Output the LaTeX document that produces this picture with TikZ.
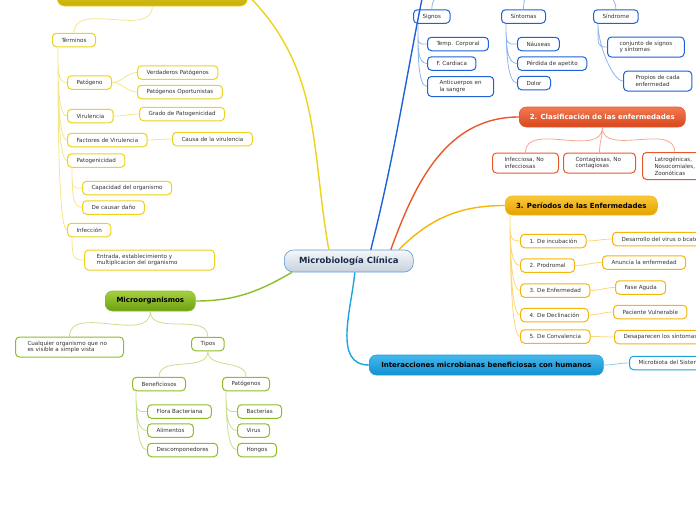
\documentclass[tikz,border=0pt]{standalone}
\usepackage{fontspec}
\setmainfont{DejaVu Sans}
\usetikzlibrary{positioning, calc}
\definecolor{ylw}{HTML}{EDD31A}
\definecolor{ylwL}{HTML}{F4E68A}
\definecolor{ylwT}{HTML}{DECB22}
\definecolor{ylwB}{HTML}{C8B00A}
\definecolor{blu}{HTML}{1D62D6}
\definecolor{bluL}{HTML}{8FB4EC}
\definecolor{org}{HTML}{E8582C}
\definecolor{orgL}{HTML}{F4A98E}
\definecolor{orgT}{HTML}{F27A52}
\definecolor{orgB}{HTML}{D8461C}
\definecolor{gld}{HTML}{F5B50A}
\definecolor{gldL}{HTML}{FAD77A}
\definecolor{gldT}{HTML}{F9C83A}
\definecolor{gldB}{HTML}{E6A200}
\definecolor{cyn}{HTML}{1DA4E0}
\definecolor{cynL}{HTML}{86CFF0}
\definecolor{cynT}{HTML}{44B8EC}
\definecolor{cynB}{HTML}{1290D0}
\definecolor{grn}{HTML}{8DBE28}
\definecolor{grnL}{HTML}{C6E08C}
\definecolor{grnT}{HTML}{A6D040}
\definecolor{grnB}{HTML}{6E9E14}
\definecolor{cenT}{HTML}{F6F8FB}
\definecolor{cenB}{HTML}{C6D0DC}
\definecolor{cenD}{HTML}{5A9BD8}
\definecolor{navy}{HTML}{1A2A4A}

\begin{document}
\begin{tikzpicture}[x=1pt, y=1pt,
    leaf/.style={draw, rounded corners=4pt, fill=white, line width=1pt, text=black!80,
                 font=\fontsize{5.6}{6.8}\selectfont, inner xsep=9pt, inner ysep=0pt,
                 minimum height=13.5pt, anchor=west, align=left},
    twoline/.style={inner xsep=12pt, minimum height=20pt},
    topic/.style={draw, rounded corners=7pt, line width=0.6pt, minimum height=20pt,
                  anchor=west, font=\bfseries\fontsize{7}{8}\selectfont},
    yl/.style={leaf, draw=ylw},
    bl/.style={leaf, draw=blu},
    ol/.style={leaf, draw=org},
    gl/.style={leaf, draw=gld},
    cl/.style={leaf, draw=cyn},
    ml/.style={leaf, draw=grn},
    main/.style={line width=1.4pt},
    sub/.style={line width=0.8pt},
    vlink/.style={to path={.. controls +(0,-22) and +(-10,0) .. (\tikztotarget)}},
]
\useasboundingbox (0,0) rectangle (696,-520);
\clip (0,0) rectangle (696,-520);

\node[topic, minimum width=129pt, minimum height=22pt, rounded corners=9pt, top color=cenT,
      bottom color=cenB, draw=cenD, text=navy, font=\bfseries\fontsize{8.5}{10}\selectfont]
      (cen) at (284,-261) {Microbiología Clínica};

% terminos
\node[topic, minimum width=190pt, minimum height=22pt, top color=ylwT, bottom color=ylwB, draw=ylw] (ytop) at (57,5) {};
\node[yl] (term) at (52,-40) {Términos};
\node[yl] (patg) at (67,-82.5) {Patógeno};
\node[yl] (verd) at (137,-72.5) {Verdaderos Patógenos};
\node[yl] (opor) at (137,-92) {Patógenos Oportunistas};
\node[yl] (viru) at (67,-116) {Virulencia};
\node[yl] (grad) at (139,-114) {Grado de Patogenicidad};
\node[yl] (fact) at (67,-140) {Factores de Virulencia};
\node[yl] (caus) at (172,-139) {Causa de la virulencia};
\node[yl] (pgen) at (67,-160.5) {Patogenicidad};
\node[yl] (capa) at (82,-188) {Capacidad del organismo};
\node[yl] (dano) at (82,-207.5) {De causar daño};
\node[yl] (infe) at (67,-230) {Infección};
\node[yl, twoline, text width=106pt] (entr) at (84,-260) {Entrada, establecimiento y\\multiplicacion del organismo};

% signos y sintomas
\node[topic, minimum width=200pt, fill=blu, draw=blu] (btop) at (430,40) {};
\node[bl] (sign) at (413,-16.5) {Signos};
\node[bl] (sint) at (501,-16.5) {Síntomas};
\node[bl] (sind) at (593,-16.5) {Síndrome};
\node[bl] (temp) at (427,-44) {Temp. Corporal};
\node[bl] (card) at (427,-63.5) {F. Cardiaca};
\node[bl, twoline] (anti) at (427,-86.5) {Anticuerpos en\\la sangre};
\node[bl] (naus) at (517,-44) {Náuseas};
\node[bl] (perd) at (517,-63.5) {Pérdida de apetito};
\node[bl] (dolo) at (517,-83) {Dolor};
\node[bl, twoline] (conj) at (607,-47) {conjunto de signos\\y síntomas};
\node[bl, twoline] (prop) at (623,-81) {Propios de cada\\enfermedad};

% clasificacion
\node[topic, minimum width=166pt, top color=orgT, bottom color=orgB, draw=org, text=white] (otop) at (519,-117) {2. Clasificación de las enfermedades};
\node[ol, twoline, text width=42pt] (infc) at (492,-163) {Infecciosa, No\\infecciosas};
\node[ol, twoline, text width=48pt] (cont) at (563,-163) {Contagiosas, No\\contagiosas};
\node[ol, twoline, minimum height=27pt] (latr) at (642,-166) {Latrogénicas,\\Nosocomiales,\\Zoonóticas};

% periodos
\node[topic, minimum width=152pt, minimum height=19pt, top color=gldT, bottom color=gldB, draw=gld] (gtop) at (505,-205.5) {3. Períodos de las Enfermedades};
\node[gl] (p1) at (520,-241) {1. De incubación};
\node[gl] (p2) at (520,-265.5) {2. Prodromal};
\node[gl] (p3) at (520,-290.5) {3. De Enfermedad};
\node[gl] (p4) at (520,-315) {4. De Declinación};
\node[gl] (p5) at (520,-336.5) {5. De Convalencia};
\node[gl] (d1) at (612,-239) {Desarrollo del virus o bcateria};
\node[gl] (d2) at (602,-262.5) {Anuncia la enfermedad};
\node[gl] (d3) at (615,-287.5) {Fase Aguda};
\node[gl] (d4) at (613,-312) {Paciente Vulnerable};
\node[gl] (d5) at (614,-337) {Desaparecen los síntomas};

% interacciones
\node[topic, minimum width=234pt, top color=cynT, bottom color=cynB, draw=cyn] (ctop) at (369,-365) {Interacciones microbianas beneficiosas con humanos};
\node[cl] (micr) at (629,-363) {Microbiota del Sistema Digestivo};

% microorganismos
\node[topic, minimum width=90pt, top color=grnT, bottom color=grnB, draw=grn] (mtop) at (105,-301) {Microorganismos};
\node[ml, twoline, text width=84pt] (cual) at (15,-347) {Cualquier organismo que no\\es visible a simple vista};
\node[ml] (tipo) at (191,-344) {Tipos};
\node[ml] (bene) at (132,-384) {Beneficiosos};
\node[ml] (pato) at (222,-384) {Patógenos};
\node[ml] (flor) at (147,-411.5) {Flora Bacteriana};
\node[ml] (alim) at (147,-430.5) {Alimentos};
\node[ml] (desc) at (147,-450) {Descomponedores};
\node[ml] (bact) at (237,-411.5) {Bacterias};
\node[ml] (viru2) at (237,-430.5) {Virus};
\node[ml] (hong) at (237,-450) {Hongos};

% main branches
\draw[main, ylw] ([xshift=-20pt]cen.north) to[out=100,in=-45] (ytop.east);
\draw[main, blu] ([xshift=22pt]cen.north) to[out=76,in=-102] (btop.west);
\draw[main, org] ([xshift=42pt]cen.north) to[out=70,in=180] (otop.west);
\draw[main, gld] ([xshift=50pt]cen.north) to[out=45,in=180] (gtop.west);
\draw[main, cyn] ([xshift=6pt]cen.south) to[out=-95,in=180] (ctop.west);
\draw[main, grn] ([xshift=8pt]cen.south west) to[out=-150,in=0] (mtop.east);

\draw[sub, ylwL] (ytop.south) to[out=-90,in=90] (term.north);
\draw[sub, ylwL] ([xshift=6pt]term.south west) to[vlink] (patg.west)
                 ([xshift=6pt]term.south west) to[vlink] (viru.west)
                 ([xshift=6pt]term.south west) to[vlink] (fact.west)
                 ([xshift=6pt]term.south west) to[vlink] (pgen.west)
                 ([xshift=6pt]term.south west) to[vlink] (infe.west);
\draw[sub, ylwL] (patg.east) to[out=0,in=180] (verd.west)
                 (patg.east) to[out=0,in=180] (opor.west)
                 (viru.east) to[out=0,in=180] (grad.west)
                 (fact.east) to[out=0,in=180] (caus.west);
\draw[sub, ylwL] ([xshift=5pt]pgen.south west) to[vlink] (capa.west)
                 ([xshift=5pt]pgen.south west) to[vlink] (dano.west)
                 ([xshift=5pt]infe.south west) to[vlink] (entr.west);

\draw[sub, bluL] (btop.south) to[out=-90,in=90] (sign.north)
                 (btop.south) to[out=-90,in=90] (sint.north)
                 (btop.south) to[out=-90,in=90] (sind.north);
\draw[sub, bluL] ([xshift=5pt]sign.south west) to[vlink] (temp.west)
                 ([xshift=5pt]sign.south west) to[vlink] (card.west)
                 ([xshift=5pt]sign.south west) to[vlink] (anti.west)
                 ([xshift=5pt]sint.south west) to[vlink] (naus.west)
                 ([xshift=5pt]sint.south west) to[vlink] (perd.west)
                 ([xshift=5pt]sint.south west) to[vlink] (dolo.west)
                 ([xshift=5pt]sind.south west) to[vlink] (conj.west)
                 ([xshift=5pt]sind.south west) to[vlink] (prop.west);

\draw[sub, orgL] (otop.south) to[out=-90,in=90] (infc.north)
                 (otop.south) to[out=-90,in=90] (cont.north)
                 (otop.south) to[out=-90,in=90] (latr.north);

\draw[sub, gldL] ([xshift=5pt]gtop.south west) to[vlink] (p1.west)
                 ([xshift=5pt]gtop.south west) to[vlink] (p2.west)
                 ([xshift=5pt]gtop.south west) to[vlink] (p3.west)
                 ([xshift=5pt]gtop.south west) to[vlink] (p4.west)
                 ([xshift=5pt]gtop.south west) to[vlink] (p5.west);
\draw[sub, gldL] (p1.east) to[out=0,in=180] (d1.west)
                 (p2.east) to[out=0,in=180] (d2.west)
                 (p3.east) to[out=0,in=180] (d3.west)
                 (p4.east) to[out=0,in=180] (d4.west)
                 (p5.east) to[out=0,in=180] (d5.west);

\draw[sub, cynL] (ctop.east) to[out=0,in=180] (micr.west);

\draw[sub, grnL] (mtop.south) to[out=-90,in=90] (cual.north)
                 (mtop.south) to[out=-90,in=90] (tipo.north)
                 (tipo.south) to[out=-90,in=90] (bene.north)
                 (tipo.south) to[out=-90,in=90] (pato.north);
\draw[sub, grnL] ([xshift=4pt]bene.south west) to[vlink] (flor.west)
                 ([xshift=4pt]bene.south west) to[vlink] (alim.west)
                 ([xshift=4pt]bene.south west) to[vlink] (desc.west)
                 ([xshift=4pt]pato.south west) to[vlink] (bact.west)
                 ([xshift=4pt]pato.south west) to[vlink] (viru2.west)
                 ([xshift=4pt]pato.south west) to[vlink] (hong.west);

\end{tikzpicture}
\end{document}
